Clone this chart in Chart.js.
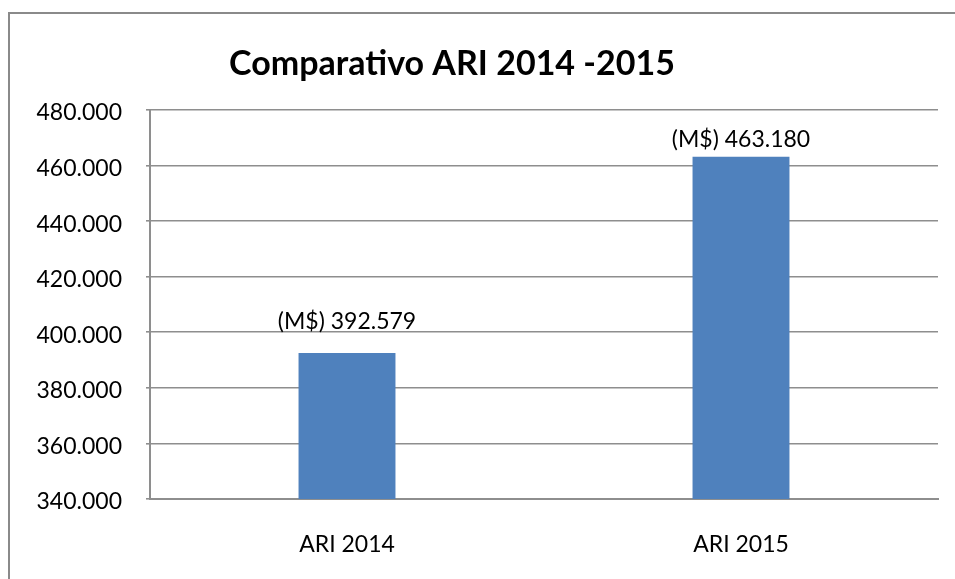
<!DOCTYPE html>
<html>
<head>
<meta charset="utf-8">
<script src="https://cdn.jsdelivr.net/npm/chart.js@4/dist/chart.umd.min.js"></script>
<style>
  html, body { margin: 0; padding: 0; background: #fff; }
  #wrap { width: 955px; height: 579px; }
</style>
</head>
<body>
<div id="wrap"><canvas id="barCanvas" width="955" height="579"></canvas></div>
<script>
// data
let categories = ["ARI 2014", "ARI 2015"]
let values = [392579, 463180]
let yMin = 340000
let yMax = 480000
let yStep = 20000
let titleText = "Comparativo ARI 2014 -2015"
let labelPrefix = "(M$) "

// how far above the bar top each value label sits (px)
let labelLift = [24, 10]

function puntos(n) {
    return Math.round(n).toString().replace(/\B(?=(\d{3})+(?!\d))/g, ".")
}

// frame around the chart + title
let framePlugin = {
    id: "frame",
    beforeDraw(chart) {
        let ctx = chart.ctx
        ctx.save()
        ctx.strokeStyle = "#8a8a8a"
        ctx.lineWidth = 2
        ctx.beginPath()
        ctx.moveTo(9, 579)
        ctx.lineTo(9, 13)
        ctx.lineTo(955, 13)
        ctx.stroke()
        ctx.restore()
    },
    afterDraw(chart) {
        let ctx = chart.ctx
        ctx.save()
        ctx.fillStyle = "#000"
        ctx.font = "bold 34px Lato"
        ctx.textAlign = "center"
        ctx.textBaseline = "alphabetic"
        ctx.fillText(titleText, 452, 75)
        ctx.restore()
    }
}

// value labels over the bars
let valueLabels = {
    id: "valueLabels",
    afterDatasetsDraw(chart) {
        let ctx = chart.ctx
        let meta = chart.getDatasetMeta(0)
        ctx.save()
        ctx.fillStyle = "#000"
        ctx.font = "23px Lato"
        ctx.textAlign = "center"
        ctx.textBaseline = "alphabetic"
        meta.data.forEach((bar, i) => {
            ctx.fillText(labelPrefix + puntos(values[i]), bar.x, bar.y - labelLift[i])
        })
        ctx.restore()
    }
}

let barCanvas = document.getElementById("barCanvas").getContext("2d")

let barChart = new Chart(barCanvas, {
    type: "bar",
    data: {
        labels: categories,
        datasets: [{
            data: values,
            backgroundColor: "#4F81BD",
            borderWidth: 0,
            barPercentage: 0.246,
            categoryPercentage: 1
        }]
    },
    options: {
        responsive: false,
        animation: false,
        layout: {
            padding: { top: 110, right: 17, left: 0, bottom: 0 }
        },
        plugins: {
            legend: { display: false },
            title: { display: false },
            tooltip: { enabled: false }
        },
        scales: {
            x: {
                grid: { display: false, drawTicks: false },
                border: { display: true, color: "#8e8e8e", width: 2 },
                ticks: {
                    padding: 32,
                    color: "#000",
                    font: { family: "Lato", size: 23 }
                },
                afterFit(scale) { scale.height = 80 }
            },
            y: {
                min: yMin,
                max: yMax,
                grid: {
                    color: "#8e8e8e",
                    lineWidth: 1.6,
                    drawTicks: true,
                    tickLength: 4
                },
                border: { display: true, color: "#8e8e8e", width: 2 },
                ticks: {
                    stepSize: yStep,
                    padding: 24,
                    labelOffset: 3,
                    color: "#000",
                    font: { family: "Lato", size: 23 },
                    callback: v => puntos(v)
                },
                afterFit(scale) { scale.width = 150 }
            }
        }
    },
    plugins: [framePlugin, valueLabels]
})
</script>
</body>
</html>
